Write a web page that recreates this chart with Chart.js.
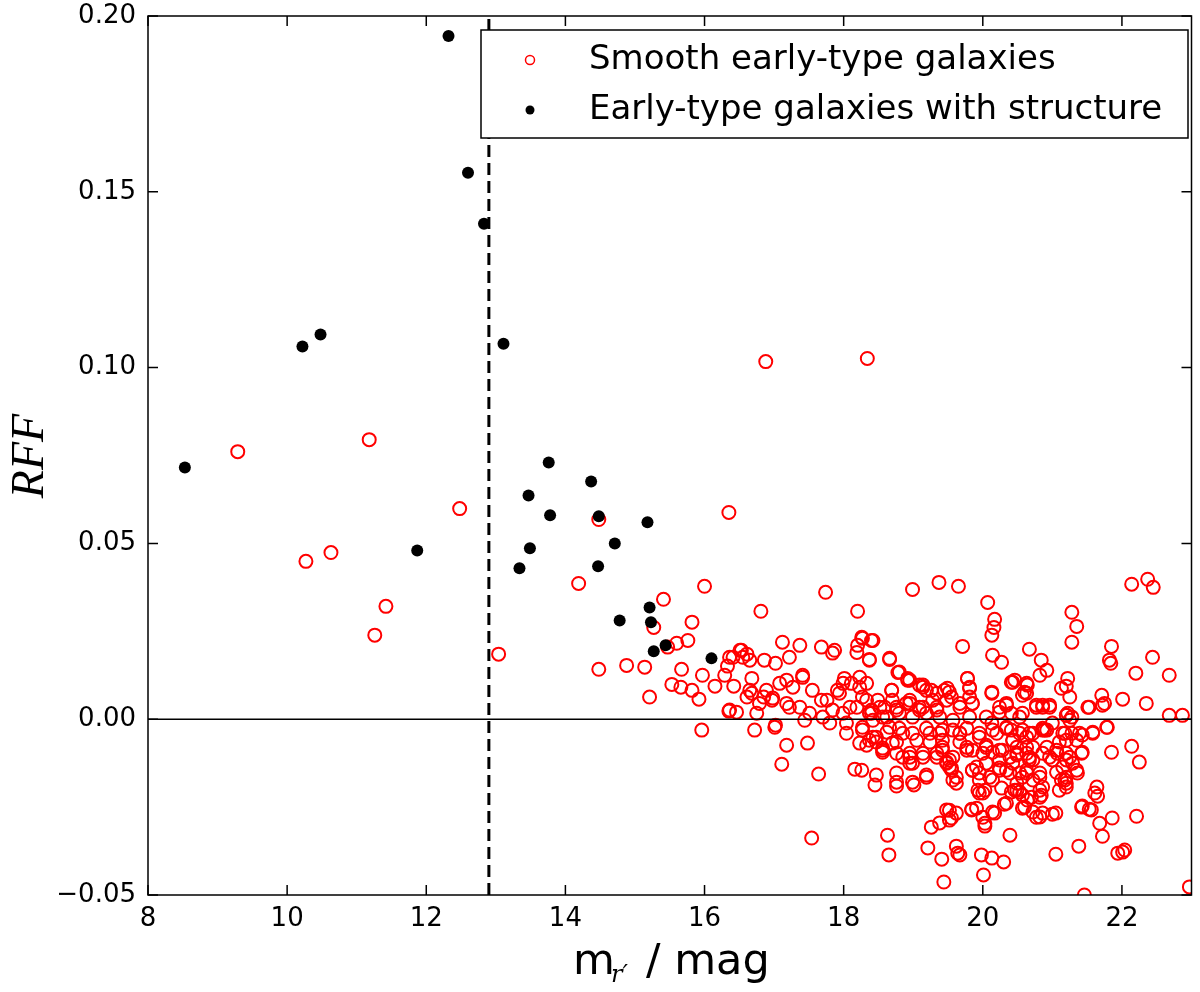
<!DOCTYPE html>
<html>
<head>
<meta charset="utf-8">
<script src="https://cdn.jsdelivr.net/npm/chart.js@4.4.1/dist/chart.umd.min.js"></script>
<style>
  html, body { margin: 0; padding: 0; background: #fff; }
  canvas { display: block; }
</style>
</head>
<body>
<canvas id="c" width="1200" height="992"></canvas>
<script>
// axis ranges and tick labels
const xRange = [8, 23];
const yRange = [-0.05, 0.20];
const xTicks = [8, 10, 12, 14, 16, 18, 20, 22];
const yTicks = [-0.05, 0.00, 0.05, 0.10, 0.15, 0.20];
const cutMag = 12.9;   // dashed vertical line

// early-type galaxies with structure (black dots): [mag, RFF]
const structured = [
  [8.53, 0.0716], [10.22, 0.106], [10.48, 0.1094], [11.87, 0.048], [12.32, 0.1943],
  [12.6, 0.1554], [12.83, 0.1409], [13.11, 0.1068], [13.76, 0.073], [13.47, 0.0636],
  [13.78, 0.058], [13.49, 0.0486], [13.34, 0.0429], [14.37, 0.0676], [14.48, 0.0577],
  [14.47, 0.0435], [14.71, 0.05], [15.18, 0.056], [15.21, 0.0318], [15.23, 0.0276],
  [14.78, 0.0281], [15.27, 0.0193], [15.44, 0.021], [16.1, 0.0173]
];

// smooth early-type galaxies (red open circles): [mag, RFF]
const smooth = [
  [9.29, 0.0761], [10.27, 0.0449], [10.63, 0.0474], [11.18, 0.0795], [11.42, 0.0321],
  [11.26, 0.0239], [12.48, 0.0599], [13.04, 0.0185], [14.19, 0.0386], [14.48, 0.0568],
  [14.48, 0.0142], [14.88, 0.0153], [15.27, 0.0261], [15.41, 0.0341], [15.21, 0.0063],
  [15.14, 0.0148], [16.35, 0.0588], [16.0, 0.0378], [16.88, 0.1017], [18.34, 0.1026],
  [15.96, -0.0031], [17.74, 0.0361], [16.81, 0.0307], [18.2, 0.0307], [15.82, 0.0276],
  [15.6, 0.0216], [15.76, 0.0224], [15.47, 0.0205], [15.67, 0.0142], [15.97, 0.0125],
  [15.53, 0.0099], [15.66, 0.0091], [15.82, 0.0082], [15.92, 0.0057], [16.15, 0.0094],
  [16.35, 0.0023], [16.42, 0.0094], [16.29, 0.0125], [16.33, 0.0151], [16.41, 0.0176],
  [16.53, 0.0196], [16.61, 0.0185], [16.86, 0.0168], [17.02, 0.0159], [17.12, 0.0219],
  [17.22, 0.0176], [17.37, 0.021], [17.68, 0.0205], [17.84, 0.0188], [18.2, 0.021],
  [18.27, 0.023], [18.4, 0.0224], [18.37, 0.017], [16.68, 0.0116], [16.68, 0.0074],
  [16.85, 0.0063], [16.98, 0.006], [17.18, 0.0111], [17.27, 0.0091], [17.41, 0.0125],
  [17.55, 0.0082], [17.68, 0.0054], [17.22, 0.0034], [17.44, -0.0003], [16.75, 0.0017],
  [17.02, -0.0017], [16.72, -0.0031], [18.01, 0.0116], [18.11, 0.0102], [18.23, 0.0091],
  [17.94, 0.0074], [18.33, 0.0054], [18.09, 0.0034], [18.4, 0.0017], [18.04, -0.0011],
  [18.23, -0.0068], [17.18, -0.0074], [17.48, -0.0068], [17.11, -0.0128], [17.64, -0.0156],
  [18.16, -0.0142], [18.45, -0.0187], [17.54, -0.0338], [17.87, 0.0196], [18.26, 0.0233],
  [18.19, 0.019], [18.66, 0.017], [18.78, 0.0133], [18.92, 0.0111], [19.14, 0.0091],
  [19.34, 0.0074], [19.45, 0.0082], [18.69, 0.0082], [18.49, 0.0054], [17.99, 0.0102],
  [17.91, 0.0082], [17.76, 0.0054], [17.41, 0.0119], [17.08, 0.0102], [16.51, 0.0196],
  [16.36, 0.0176], [16.55, 0.0176], [16.65, 0.0168], [16.65, 0.0082], [16.89, 0.0082],
  [16.97, 0.0054], [16.79, 0.0045], [16.61, 0.0063], [16.36, 0.0026], [16.46, 0.002],
  [17.18, 0.0045], [17.37, 0.0034], [17.51, 0.0017], [17.7, 0.0006], [17.84, 0.0026],
  [17.99, 0.0017], [18.19, 0.0034], [18.37, 0.0017], [18.56, 0.0006], [18.76, 0.0034],
  [18.95, 0.0054], [19.14, 0.0034], [19.34, 0.0026], [19.48, 0.0054], [17.01, -0.0023],
  [17.8, -0.0011], [18.04, -0.004], [18.47, -0.0051], [18.66, -0.0023], [18.85, -0.004],
  [19.05, -0.006], [19.24, -0.004], [19.42, -0.0031], [18.56, -0.0088], [18.76, -0.0097],
  [18.95, -0.0108], [19.14, -0.0097], [19.34, -0.0108], [18.47, -0.0159], [18.76, -0.0153],
  [19.19, -0.0159], [18.95, -0.0125], [18.47, -0.0065], [18.76, -0.019], [19.01, -0.0187],
  [19.19, -0.0165], [18.63, -0.033], [18.65, -0.0386], [19.26, -0.0307], [19.38, -0.0295],
  [19.21, -0.0366], [19.41, -0.0398], [19.44, -0.0463], [19.48, -0.0258], [18.99, 0.0369],
  [19.37, 0.0389], [19.65, 0.0378], [20.07, 0.0332], [20.17, 0.0284], [20.16, 0.0261],
  [20.13, 0.0239], [19.71, 0.0207], [20.14, 0.0182], [20.27, 0.0162], [20.67, 0.0199],
  [20.84, 0.0168], [20.92, 0.0139], [20.82, 0.0125], [21.28, 0.0304], [21.35, 0.0264],
  [21.28, 0.0219], [21.85, 0.0207], [21.82, 0.0168], [21.84, 0.0159], [22.14, 0.0384],
  [22.37, 0.0398], [22.45, 0.0375], [22.44, 0.0176], [22.68, 0.0125], [22.2, 0.0131],
  [22.68, 0.0011], [22.87, 0.0011], [22.35, 0.0045], [22.01, 0.0057], [21.78, -0.0023],
  [21.85, -0.0094], [22.14, -0.0077], [22.25, -0.0122], [22.21, -0.0276], [22.01, -0.0378],
  [21.94, -0.0381], [21.72, -0.0333], [21.86, -0.0281], [21.68, -0.0296], [21.61, -0.021],
  [21.64, -0.0193], [21.53, -0.0256], [21.42, -0.025], [21.38, -0.0361], [21.05, -0.0384],
  [21.0, -0.027], [20.82, -0.0278], [20.39, -0.033], [20.3, -0.0406], [20.13, -0.0395],
  [20.01, -0.0443], [19.98, -0.0386], [20.03, -0.0296], [19.91, -0.0253], [19.64, -0.0381],
  [19.62, -0.0361], [19.52, -0.0259], [19.62, -0.0267], [19.52, -0.0287], [19.84, -0.0256],
  [20.17, -0.0267], [20.31, -0.0242], [20.6, -0.025], [20.72, -0.0264], [20.86, -0.0267],
  [21.05, -0.0267], [21.43, -0.0247], [19.62, -0.0182], [19.55, -0.0139], [19.48, -0.0122],
  [19.95, -0.0153], [19.95, -0.021], [20.03, -0.0202], [20.14, -0.0173], [20.27, -0.0196],
  [20.46, -0.0202], [20.57, -0.0216], [20.7, -0.0222], [20.84, -0.0216], [21.13, -0.0173],
  [21.2, -0.0193], [21.36, -0.0153], [21.15, -0.0136], [21.42, -0.0097], [21.58, -0.004],
  [21.28, -0.004], [21.1, -0.0065], [20.89, -0.0031], [21.22, 0.0017], [21.25, -0.0003],
  [21.2, 0.0094], [21.22, 0.0116], [21.13, 0.0088], [21.53, 0.0034], [21.71, 0.0068],
  [21.75, 0.0045], [20.77, 0.0034], [20.86, 0.0034], [20.96, 0.0034], [20.63, 0.0074],
  [20.43, 0.0105], [20.13, 0.0074], [19.78, 0.0116], [19.81, 0.0091], [20.34, 0.004],
  [20.13, -0.0011], [20.41, -0.0031], [20.63, -0.0051], [20.72, -0.008], [20.92, -0.008],
  [21.06, -0.0088], [21.25, -0.0108], [21.0, -0.0116], [20.67, -0.0108], [20.49, -0.0102],
  [20.28, -0.0088], [20.14, -0.0094], [20.05, -0.008], [19.91, -0.0136], [20.24, -0.0139],
  [20.39, -0.0153], [20.63, -0.0153], [20.82, -0.0165], [19.77, -0.008], [19.67, -0.004],
  [19.42, -0.006], [18.7, -0.0068], [18.56, -0.0094], [18.37, -0.006], [18.26, -0.0145],
  [19.14, -0.0108], [19.34, -0.0097], [19.52, -0.0116], [19.19, 0.0017], [19.38, 0.0006],
  [19.57, -0.0003], [19.81, 0.0006], [18.99, 0.0006], [18.8, 0.0017], [18.62, 0.0006],
  [18.42, -0.0003], [18.52, 0.0034], [18.7, 0.0054], [18.9, 0.0045], [19.09, 0.0034],
  [19.28, 0.0054], [19.67, 0.0045], [19.85, 0.0045], [19.19, 0.0082], [19.09, 0.0097],
  [18.95, 0.0111], [18.8, 0.0134], [18.66, 0.0173], [18.37, 0.0168], [18.23, 0.0119],
  [18.42, 0.0224], [19.52, 0.0077], [19.81, 0.0063], [20.05, 0.0006], [20.24, 0.002],
  [20.53, 0.0006], [18.27, 0.0063], [18.27, -0.0023], [21.43, -0.0045], [21.65, -0.0219],
  [21.56, -0.0258], [22.04, -0.0372], [19.67, -0.0386], [22.97, -0.0477], [21.46, -0.05],
  [19.55, -0.0281], [19.84, -0.0258], [20.0, -0.0279], [20.03, -0.0304], [20.14, -0.0264],
  [20.34, -0.0239], [20.57, -0.0253], [20.77, -0.0279], [20.64, -0.023], [20.53, -0.0207],
  [20.82, -0.0222], [20.41, -0.0207], [20.0, -0.021], [19.93, -0.0202], [19.55, -0.0145],
  [19.57, -0.0173], [19.48, -0.0125], [19.85, -0.0145], [20.1, -0.0165], [20.34, -0.0145],
  [20.57, -0.0165], [20.72, -0.0173], [20.86, -0.0193], [21.2, -0.0182], [21.2, -0.0165],
  [21.29, -0.0125], [21.07, -0.0097], [20.86, -0.0097], [20.67, -0.0116], [20.49, -0.0097],
  [20.24, -0.0116], [20.0, -0.0097], [19.77, -0.0088], [19.57, -0.0108], [19.42, -0.0088],
  [19.67, -0.004], [19.95, -0.0051], [20.2, -0.004], [20.43, -0.006], [20.67, -0.004],
  [20.92, -0.0031], [21.15, -0.004], [21.35, -0.006], [21.2, -0.0097], [20.46, 0.0111],
  [20.64, 0.0097], [20.6, 0.0077], [21.25, 0.0063], [21.2, 0.0011], [21.28, 0.0006],
  [20.86, -0.0026], [20.72, -0.004],
  // dense core around RFF = 0
  [18.33, 0.0102], [18.69, 0.0082], [18.92, 0.0116], [19.14, 0.0097], [19.26, 0.0082],
  [19.49, 0.0088], [19.55, 0.0063], [19.78, 0.0116], [19.81, 0.0088], [20.13, 0.0077],
  [20.41, 0.0105], [20.63, 0.0102], [20.57, 0.0068], [18.4, 0.0026], [18.59, 0.0034],
  [18.76, 0.0026], [18.95, 0.0045], [19.09, 0.0026], [19.34, 0.0034], [19.67, 0.0034],
  [19.85, 0.0045], [20.24, 0.0034], [20.41, 0.0017], [20.57, 0.0017], [18.27, -0.0031],
  [18.42, -0.0051], [18.62, -0.0037], [18.8, -0.0026], [18.99, -0.004], [19.19, -0.0026],
  [19.38, -0.004], [19.57, -0.0031], [19.77, -0.0026], [19.95, -0.004], [20.14, -0.0031],
  [20.34, -0.0026], [20.53, -0.004], [18.33, -0.0074], [18.56, -0.0082], [18.76, -0.0065],
  [18.95, -0.0097], [19.24, -0.0065], [19.42, -0.008], [19.67, -0.0065], [19.85, -0.0088],
  [20.05, -0.0074], [20.24, -0.0088], [20.49, -0.008], [20.63, -0.0097], [18.85, -0.0108],
  [18.99, -0.0125], [19.52, -0.0136], [19.62, -0.0165], [19.85, -0.0145], [20.05, -0.0125],
  [20.24, -0.0145], [20.43, -0.0125], [20.63, -0.0145], [18.76, -0.0179], [18.99, -0.0179],
  [19.95, -0.0173], [20.49, -0.0182], [20.34, 0.0045], [20.77, 0.004], [20.86, 0.004],
  [20.96, 0.004], [21.2, 0.0011], [21.51, 0.0034], [21.72, 0.004], [20.86, -0.0031],
  [21.18, -0.004], [21.39, -0.004], [21.58, -0.0037], [21.79, -0.0023], [21.43, -0.0094],
  [21.35, -0.0145], [21.18, -0.0173], [20.43, -0.006], [20.63, -0.008], [20.39, -0.0108],
  [20.72, -0.0116], [20.96, -0.0108], [21.2, -0.0116], [20.53, -0.0153], [20.82, -0.0153],
  [21.06, -0.0151], [20.49, -0.0202], [20.82, -0.0202], [21.1, -0.0202], [20.34, -0.0023],
  [20.57, -0.0031], [21.0, -0.0011], [21.2, -0.006]
];

const seriesLabels = ['Smooth early-type galaxies', 'Early-type galaxies with structure'];

const SANS = "'DejaVu Sans', Verdana, sans-serif";
const toXY = arr => arr.map(p => ({ x: p[0], y: p[1] }));

// frame, inward ticks on all four sides, legend box and axis titles
const decor = {
  id: 'decor',
  afterDraw(chart) {
    const { ctx, chartArea: a, scales: { x, y } } = chart;
    ctx.save();
    ctx.strokeStyle = '#000';
    ctx.lineWidth = 1.5;
    ctx.strokeRect(a.left, a.top, a.right - a.left, a.bottom - a.top);
    ctx.beginPath();
    xTicks.forEach(v => {
      const px = x.getPixelForValue(v);
      ctx.moveTo(px, a.bottom); ctx.lineTo(px, a.bottom - 10);
      ctx.moveTo(px, a.top); ctx.lineTo(px, a.top + 10);
    });
    yTicks.forEach(v => {
      const py = y.getPixelForValue(v);
      ctx.moveTo(a.left, py); ctx.lineTo(a.left + 10, py);
      ctx.moveTo(a.right, py); ctx.lineTo(a.right - 10, py);
    });
    ctx.stroke();

    // legend
    ctx.fillStyle = '#fff';
    ctx.fillRect(481, 30, 707, 108);
    ctx.strokeRect(481, 30, 707, 108);
    ctx.beginPath();
    ctx.arc(530, 60, 4.5, 0, Math.PI * 2);
    ctx.strokeStyle = '#ff0000';
    ctx.lineWidth = 1.5;
    ctx.stroke();
    ctx.beginPath();
    ctx.arc(530, 110, 4.5, 0, Math.PI * 2);
    ctx.fillStyle = '#000';
    ctx.fill();
    ctx.font = '34px ' + SANS;
    ctx.textBaseline = 'middle';
    ctx.textAlign = 'left';
    ctx.fillText(seriesLabels[0], 589, 60);
    ctx.fillText(seriesLabels[1], 589, 110);

    // x title: m_r' / mag
    ctx.textBaseline = 'alphabetic';
    ctx.font = '43px ' + SANS;
    ctx.fillText('m', 573, 974);
    ctx.font = 'italic 24px "DejaVu Serif", serif';
    ctx.fillText('r\u2032', 611, 982);
    ctx.font = '43px ' + SANS;
    ctx.fillText('/ mag', 646, 974);

    // y title
    ctx.translate(43, 456);
    ctx.rotate(-Math.PI / 2);
    ctx.font = 'italic 46px "Liberation Serif", "DejaVu Serif", serif';
    ctx.textAlign = 'center';
    ctx.fillText('RFF', 0, 0);
    ctx.restore();
  }
};

new Chart(document.getElementById('c'), {
  type: 'scatter',
  data: {
    datasets: [
      {
        type: 'line',
        data: [{ x: xRange[0], y: 0 }, { x: xRange[1], y: 0 }],
        borderColor: '#000', borderWidth: 1.5, pointRadius: 0, clip: 0,
      },
      {
        type: 'line',
        data: [{ x: cutMag, y: yRange[0] }, { x: cutMag, y: yRange[1] }],
        borderColor: '#000', borderWidth: 3, borderDash: [12, 6], pointRadius: 0, clip: 0,
      },
      {
        label: seriesLabels[1],
        data: toXY(structured),
        backgroundColor: '#000', borderColor: '#000',
        pointRadius: 6, borderWidth: 0, clip: 0,
      },
      {
        label: seriesLabels[0],
        data: toXY(smooth),
        backgroundColor: 'rgba(0,0,0,0)', borderColor: '#ff0000',
        pointRadius: 6.5, borderWidth: 2, clip: 0,
      },
    ],
  },
  options: {
    responsive: false,
    animation: false,
    events: [],
    layout: { padding: { top: 16, right: 7, left: 0, bottom: 0 } },
    plugins: { legend: { display: false }, tooltip: { enabled: false } },
    scales: {
      x: {
        type: 'linear', min: xRange[0], max: xRange[1],
        afterBuildTicks: s => { s.ticks = xTicks.map(v => ({ value: v })); },
        afterFit: s => { s.height = 97; s.paddingLeft = 0; s.paddingRight = 0; },
        grid: { display: false, drawTicks: false },
        border: { display: false },
        ticks: { color: '#000', font: { family: SANS, size: 26 }, padding: 9, maxRotation: 0 },
      },
      y: {
        type: 'linear', min: yRange[0], max: yRange[1],
        afterBuildTicks: s => { s.ticks = yTicks.map(v => ({ value: v })); },
        afterFit: s => { s.width = 148; s.paddingTop = 0; s.paddingBottom = 0; },
        grid: { display: false, drawTicks: false },
        border: { display: false },
        ticks: {
          color: '#000', font: { family: SANS, size: 26 }, padding: 12,
          callback: v => (v < 0 ? '\u2212' : '') + Math.abs(v).toFixed(2),
        },
      },
    },
  },
  plugins: [decor],
});
</script>
</body>
</html>
